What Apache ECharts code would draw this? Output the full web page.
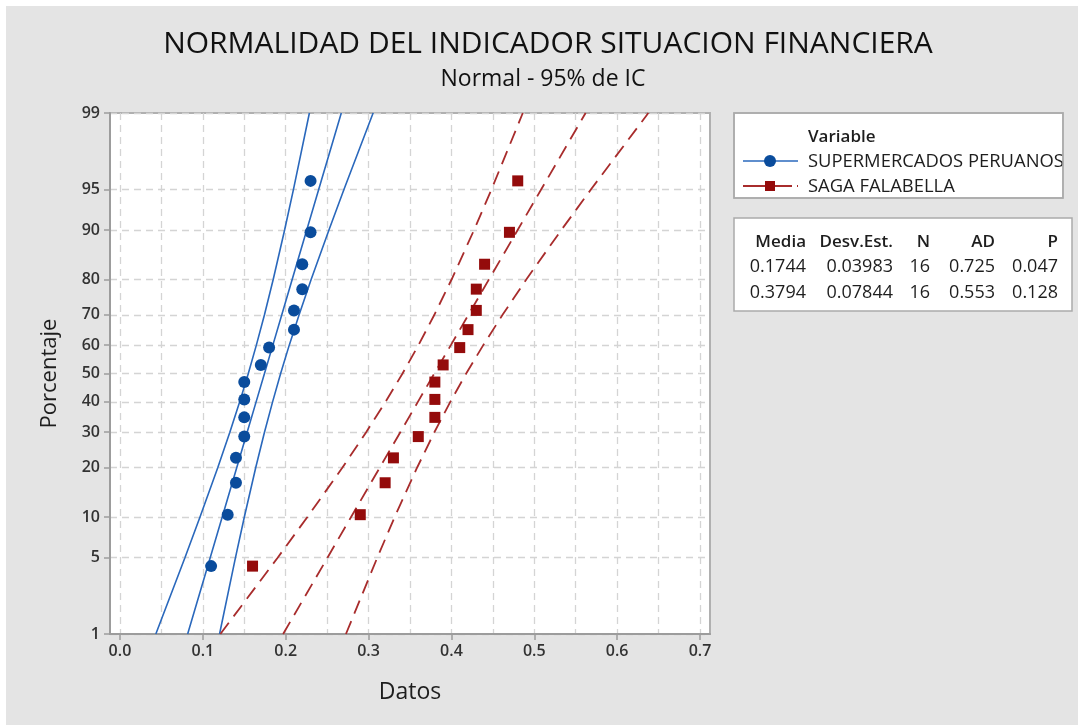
<!DOCTYPE html>
<html>
<head>
<meta charset="utf-8">
<script src="https://cdn.jsdelivr.net/npm/echarts@6/dist/echarts.min.js"></script>
<style>
html,body{margin:0;padding:0;background:#ffffff;}
#chart{width:1078px;height:725px;}
</style>
</head>
<body>
<div id="chart"></div>
<script>
// ---- data ----
const yTickPct = [1, 5, 10, 20, 30, 40, 50, 60, 70, 80, 90, 95, 99];
const xTickValues = [0, 0.1, 0.2, 0.3, 0.4, 0.5, 0.6, 0.7];
const xGridValues = [0, 0.05, 0.1, 0.15, 0.2, 0.25, 0.3, 0.35, 0.4, 0.45, 0.5, 0.55, 0.6, 0.65, 0.7];
const plotPct = [4.27, 10.37, 16.46, 22.56, 28.66, 34.76, 40.85, 46.95, 53.05, 59.15, 65.24, 71.34, 77.44, 83.54, 89.63, 95.73];
const superValues = [0.11, 0.13, 0.14, 0.14, 0.15, 0.15, 0.15, 0.15, 0.17, 0.18, 0.21, 0.21, 0.22, 0.22, 0.23, 0.23];
const sagaValues = [0.16, 0.29, 0.32, 0.33, 0.36, 0.38, 0.38, 0.38, 0.39, 0.41, 0.42, 0.43, 0.43, 0.44, 0.47, 0.48];
const bandPct = [1, 5, 10, 20, 30, 40, 50, 60, 70, 80, 90, 95, 99];
const superFit   = [0.0817, 0.1089, 0.1234, 0.1409, 0.1535, 0.1643, 0.1744, 0.1845, 0.1953, 0.2079, 0.2254, 0.2399, 0.2671];
const superLower = [0.0433, 0.0784, 0.0966, 0.1180, 0.1326, 0.1445, 0.1549, 0.1646, 0.1744, 0.1850, 0.1987, 0.2094, 0.2286];
const superUpper = [0.1202, 0.1394, 0.1501, 0.1638, 0.1744, 0.1842, 0.1939, 0.2043, 0.2162, 0.2308, 0.2522, 0.2704, 0.3055];
const sagaFit    = [0.1969, 0.2504, 0.2789, 0.3134, 0.3383, 0.3595, 0.3794, 0.3993, 0.4205, 0.4454, 0.4799, 0.5084, 0.5619];
const sagaLower  = [0.1212, 0.1903, 0.2262, 0.2683, 0.2971, 0.3204, 0.3410, 0.3602, 0.3794, 0.4003, 0.4273, 0.4484, 0.4861];
const sagaUpper  = [0.2727, 0.3105, 0.3315, 0.3585, 0.3794, 0.3986, 0.4178, 0.4384, 0.4617, 0.4905, 0.5326, 0.5685, 0.6376];
const tableHeader = ['Media', 'Desv.Est.', 'N', 'AD', 'P'];
const tableRow1 = ['0.1744', '0.03983', '16', '0.725', '0.047'];
const tableRow2 = ['0.3794', '0.07844', '16', '0.553', '0.128'];
const seriesNames = ['SUPERMERCADOS PERUANOS', 'SAGA FALABELLA'];

// ---- probability scale (inverse normal CDF) ----
function probit(p) {
  const a = [-3.969683028665376e+01, 2.209460984245205e+02, -2.759285104469687e+02, 1.383577518672690e+02, -3.066479806614716e+01, 2.506628277459239e+00];
  const b = [-5.447609879822406e+01, 1.615858368580409e+02, -1.556989798598866e+02, 6.680131188771972e+01, -1.328068155288572e+01];
  const c = [-7.784894002430293e-03, -3.223964580411365e-01, -2.400758277161838e+00, -2.549732516343511e+00, 4.374664141464968e+00, 2.938163982698783e+00];
  const d = [7.784695709041462e-03, 3.224671290700398e-01, 2.445134137142996e+00, 3.754408661907416e+00];
  const plow = 0.02425;
  let q, r;
  if (p < plow) {
    q = Math.sqrt(-2 * Math.log(p));
    return (((((c[0]*q+c[1])*q+c[2])*q+c[3])*q+c[4])*q+c[5]) / ((((d[0]*q+d[1])*q+d[2])*q+d[3])*q+1);
  } else if (p > 1 - plow) {
    q = Math.sqrt(-2 * Math.log(1 - p));
    return -(((((c[0]*q+c[1])*q+c[2])*q+c[3])*q+c[4])*q+c[5]) / ((((d[0]*q+d[1])*q+d[2])*q+d[3])*q+1);
  }
  q = p - 0.5; r = q * q;
  return (((((a[0]*r+a[1])*r+a[2])*r+a[3])*r+a[4])*r+a[5])*q / (((((b[0]*r+b[1])*r+b[2])*r+b[3])*r+b[4])*r+1);
}
const zOf = pct => probit(pct / 100);
const yTickZ = yTickPct.map(zOf);
const yMin = zOf(1), yMax = zOf(99);
const pairs = (xs, ps) => xs.map((x, i) => [x, zOf(ps[i])]);

const FONT = '"Open Sans", "Noto Sans", sans-serif';
const BLUE_LINE = '#2a68bc';
const BLUE_PT = '#0a4c9c';
const RED_LINE = '#a82c2c';
const RED_PT = '#940b0b';
const BG = '#e4e4e4';
const TXT = '#1e1e1e';

const chart = echarts.init(document.getElementById('chart'));

function bandSeries(name, xs, color, dashed) {
  return {
    name: name, type: 'line', data: pairs(xs, bandPct), showSymbol: false, symbol: 'none',
    smooth: false, silent: true, z: 3,
    lineStyle: { color: color, width: dashed ? 1.8 : 1.6, type: dashed ? [14, 8] : 'solid' }
  };
}

const textBase = { fontFamily: FONT, fill: TXT };
const graphics = [
  { type: 'rect', z: -10, shape: { x: 6, y: 6, width: 1072, height: 719 }, style: { fill: BG } },
  // legend box
  { type: 'rect', shape: { x: 734, y: 113, width: 329, height: 85 }, style: { fill: '#ffffff', stroke: '#aaaaaa', lineWidth: 1.5 } },
  { type: 'text', style: Object.assign({ x: 808, y: 137, text: 'Variable', fontSize: 17, fontWeight: 600, textVerticalAlign: 'middle' }, textBase) },
  { type: 'line', shape: { x1: 743, y1: 161, x2: 798, y2: 161 }, style: { stroke: BLUE_LINE, lineWidth: 1.6 } },
  { type: 'circle', shape: { cx: 770, cy: 161, r: 6 }, style: { fill: BLUE_PT } },
  { type: 'text', style: Object.assign({ x: 808, y: 162, text: seriesNames[0], fontSize: 18.4, textVerticalAlign: 'middle' }, textBase) },
  { type: 'line', shape: { x1: 743, y1: 186, x2: 798, y2: 186 }, style: { stroke: RED_LINE, lineWidth: 1.8, lineDash: [22, 5] } },
  { type: 'rect', shape: { x: 765, y: 181, width: 10, height: 10 }, style: { fill: RED_PT } },
  { type: 'text', style: Object.assign({ x: 808, y: 187, text: seriesNames[1], fontSize: 18.4, textVerticalAlign: 'middle' }, textBase) },
  { type: 'rect', shape: { x: 1063.75, y: 113, width: 14.25, height: 86 }, style: { fill: BG } },
  { type: 'rect', shape: { x: 734, y: 113, width: 329, height: 85 }, style: { fill: 'none', stroke: '#aaaaaa', lineWidth: 1.5 } },
  // stats box
  { type: 'rect', shape: { x: 734, y: 218, width: 338, height: 93 }, style: { fill: '#ffffff', stroke: '#aaaaaa', lineWidth: 1.5 } }
];
const colRight = [806, 893, 930, 995, 1058];
[[tableHeader, 242, 17, 600], [tableRow1, 267, 18, 'normal'], [tableRow2, 293, 18, 'normal']].forEach(([row, y, fs, fw]) => {
  row.forEach((t, i) => {
    graphics.push({ type: 'text', style: Object.assign({ x: colRight[i], y: y, text: t, fontSize: fs, fontWeight: fw, textAlign: 'right', textVerticalAlign: 'middle' }, textBase) });
  });
});

const option = {
  backgroundColor: '#ffffff',
  animation: false,
  title: [
    { text: 'NORMALIDAD DEL INDICADOR SITUACION FINANCIERA', left: 543, top: 24, textAlign: 'center',
      textStyle: { fontFamily: FONT, fontSize: 30, fontWeight: 'normal', color: '#111' } },
    { text: 'Normal - 95% de IC', left: 538, top: 63, textAlign: 'center',
      textStyle: { fontFamily: FONT, fontSize: 23, fontWeight: 'normal', color: '#111' } }
  ],
  grid: { left: 110, top: 113, right: 368, bottom: 91, show: true, backgroundColor: '#ffffff', borderColor: '#b0b0b0', borderWidth: 2 },
  xAxis: [
    {
      type: 'value', min: -0.012, max: 0.712, position: 'bottom',
      name: 'Datos', nameLocation: 'middle', nameGap: 47,
      nameTextStyle: { fontFamily: FONT, fontSize: 23, color: TXT },
      axisLine: { show: true, onZero: false, lineStyle: { color: '#9c9c9c', width: 2 } },
      axisTick: { show: true, length: 6, lineStyle: { color: '#9c9c9c', width: 1.5 }, customValues: xTickValues },
      axisLabel: { customValues: xTickValues, margin: 9, fontFamily: FONT, fontSize: 16, fontWeight: 600, color: '#333', formatter: v => v.toFixed(1) },
      splitLine: { show: false }
    },
    {
      type: 'value', min: -0.012, max: 0.712, position: 'bottom',
      axisLine: { show: false }, axisLabel: { show: false },
      axisTick: { show: false, customValues: xGridValues },
      splitLine: { show: true, lineStyle: { color: '#d4d4d4', width: 1.3, type: [7, 5] } }
    }
  ],
  yAxis: {
    type: 'value', min: yMin, max: yMax,
    name: 'Porcentaje', nameLocation: 'middle', nameGap: 49,
    nameTextStyle: { fontFamily: FONT, fontSize: 22, color: TXT },
    axisLine: { show: true, onZero: false, lineStyle: { color: '#9c9c9c', width: 2 } },
    axisTick: { show: true, length: 6, lineStyle: { color: '#9c9c9c', width: 1.5 }, customValues: yTickZ },
    axisLabel: {
      customValues: yTickZ, margin: 10, fontFamily: FONT, fontSize: 16, fontWeight: 600, color: '#333',
      formatter: v => {
        let best = 0, bd = Infinity;
        yTickZ.forEach((z, i) => { const d = Math.abs(z - v); if (d < bd) { bd = d; best = i; } });
        return String(yTickPct[best]);
      }
    },
    splitLine: { show: true, lineStyle: { color: '#d4d4d4', width: 1.3, type: [7, 5] } }
  },
  series: [
    bandSeries('sp_lower', superLower, BLUE_LINE, false),
    bandSeries('sp_fit', superFit, BLUE_LINE, false),
    bandSeries('sp_upper', superUpper, BLUE_LINE, false),
    bandSeries('sf_lower', sagaLower, RED_LINE, true),
    bandSeries('sf_fit', sagaFit, RED_LINE, true),
    bandSeries('sf_upper', sagaUpper, RED_LINE, true),
    { name: seriesNames[0], type: 'scatter', data: pairs(superValues, plotPct), symbol: 'circle', symbolSize: 12,
      itemStyle: { color: BLUE_PT, opacity: 1 }, z: 5 },
    { name: seriesNames[1], type: 'scatter', data: pairs(sagaValues, plotPct), symbol: 'rect', symbolSize: 11,
      itemStyle: { color: RED_PT, opacity: 1 }, z: 5 }
  ],
  graphic: graphics
};
chart.setOption(option);
</script>
</body>
</html>
